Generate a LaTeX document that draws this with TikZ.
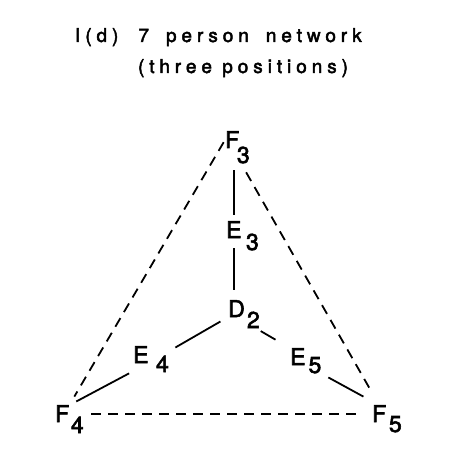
\documentclass[tikz,border=0pt]{standalone}
\usepackage{fontspec}
\setmainfont{TeX Gyre Heros}[FakeBold=2.5]
\newfontfamily\titlefont{TeX Gyre Heros}[LetterSpace=26,FakeBold=2.5]
\newcommand{\lbl}[4]{#1\rlap{\smash{\kern#3pt\raisebox{-#4pt}{#2}}}}
\begin{document}
\begin{tikzpicture}[x=1pt,y=-1pt,
  lab/.style={font=\fontsize{23}{23}\selectfont, inner sep=0pt, outer sep=0pt, anchor=base west},
  ttl/.style={font=\titlefont\fontsize{19}{19}\selectfont, inner sep=0pt, outer sep=0pt, anchor=base west},
  link/.style={line width=1.8pt},
  dashlink/.style={line width=1.8pt, dash pattern=on 10pt off 7pt}]
\useasboundingbox (0,0) rectangle (463,473);
% title
\node[ttl] (t1) at (75,42) {I\hspace{5pt}(d\hspace{5pt})\hspace{20pt}7\hspace{17pt}person\hspace{17pt}network};
\node[ttl] (t2) at (138,73) {(three positions)};
% nodes
\node[lab] (F3) at (225.2,148) {\lbl{F}{3}{-2.3}{15}};
\node[lab] (E3) at (226.2,238) {\lbl{E}{3}{4.5}{12}};
\node[lab] (D2) at (228.2,317) {\lbl{D}{2}{2.2}{11}};
\node[lab] (E4) at (133.2,363) {\lbl{E}{4}{7.5}{9}};
\node[lab] (E5) at (290.2,365) {\lbl{E}{5}{3}{8}};
\node[lab] (F4) at (55.2,422) {\lbl{F}{4}{1.7}{11}};
\node[lab] (F5) at (372.2,422) {\lbl{F}{5}{2.7}{10}};
% solid links
\draw[link, shorten <=22pt, shorten >=6pt] (E3.north |- F3.south) -- (E3.north);
\draw[link, shorten <=10pt, shorten >=10pt] (E3.south) -- (E3.south |- D2.north);
\draw[link, shorten <=9pt, shorten >=31pt] (D2.south west) -- (E4.south east);
\draw[link, shorten <=22pt, shorten >=8pt] (E4.south east) -- (F4.north east);
\draw[link, shorten <=28pt, shorten >=17pt] (D2.south) -- (E5.north west);
\draw[link, shorten <=26pt, shorten >=18pt] (E5.south east) -- (F5.north);
% dashed links
\draw[dashlink, shorten <=3pt, shorten >=10pt] (F3.west) -- (F4.north east);
\draw[dashlink, shorten <=28pt, shorten >=17pt] (F3.south) -- (F5.north);
\draw[dashlink, shorten <=22pt, shorten >=11pt] (F4.east) -- (F5.west);
\end{tikzpicture}
\end{document}
